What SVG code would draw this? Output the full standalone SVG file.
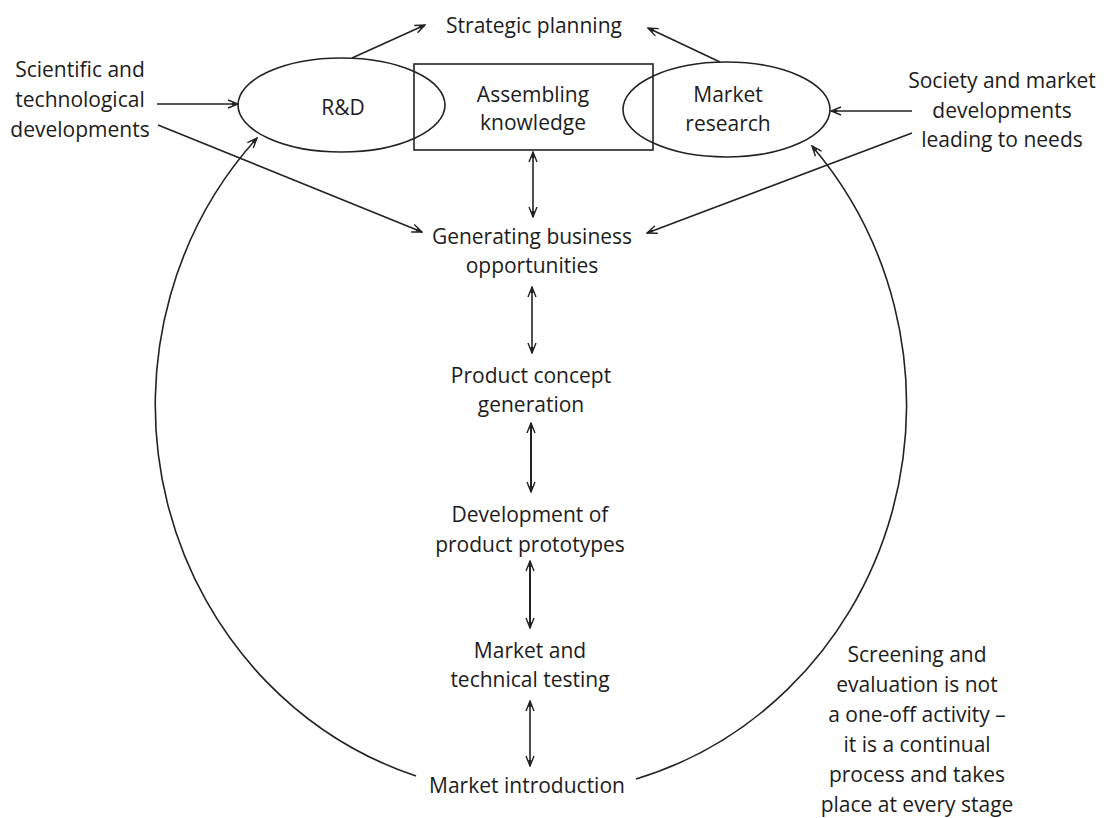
<svg xmlns="http://www.w3.org/2000/svg" width="1106" height="818" viewBox="0 0 1106 818">
  <defs>
    <style>
      .lbl { font-family: "Open Sans", "Noto Sans", "Liberation Sans", sans-serif; font-size: 21px; fill: #1c1c1c; text-anchor: middle; }
      .shape { fill: none; stroke: #222; stroke-width: 1.6; }
      .edge { fill: none; stroke: #222; stroke-width: 1.6; }
      .edge.bold { stroke-width: 2; }
    </style>
    <marker id="arrow" viewBox="0 0 12 10" markerWidth="12" markerHeight="10" refX="11" refY="5" orient="auto-start-reverse" markerUnits="userSpaceOnUse">
      <path d="M1,1 L11,5 L1,9" fill="none" stroke="#222" stroke-width="1.4"/>
      <path d="M5,3.2 L11,5 L5,6.8 Z" fill="#222"/>
    </marker>
  </defs>
  <rect width="1106" height="818" fill="#ffffff"/>

  <!-- connectors -->
  <g id="connectors">
    <!-- to strategic planning -->
    <line class="edge" x1="352" y1="58" x2="425" y2="25" marker-end="url(#arrow)"/>
    <line class="edge" x1="720" y1="62" x2="648" y2="28" marker-end="url(#arrow)"/>
    <!-- external inputs -->
    <line class="edge" x1="157" y1="104" x2="238" y2="104" marker-end="url(#arrow)"/>
    <line class="edge" x1="158" y1="125" x2="422" y2="232" marker-end="url(#arrow)"/>
    <line class="edge" x1="912" y1="111" x2="831" y2="111" marker-end="url(#arrow)"/>
    <line class="edge" x1="912" y1="133" x2="647" y2="233" marker-end="url(#arrow)"/>
    <!-- central chain -->
    <line class="edge" x1="533" y1="152" x2="533" y2="217" marker-start="url(#arrow)" marker-end="url(#arrow)"/>
    <line class="edge" x1="532" y1="287" x2="532" y2="353" marker-start="url(#arrow)" marker-end="url(#arrow)"/>
    <line class="edge bold" x1="531" y1="423" x2="531" y2="492" marker-start="url(#arrow)" marker-end="url(#arrow)"/>
    <line class="edge bold" x1="530" y1="561" x2="530" y2="628" marker-start="url(#arrow)" marker-end="url(#arrow)"/>
    <line class="edge" x1="530" y1="701" x2="530" y2="766" marker-start="url(#arrow)" marker-end="url(#arrow)"/>
    <!-- feedback loops -->
    <path class="edge" d="M416,776 A376,390 0 0,1 257,138" marker-end="url(#arrow)"/>
    <path class="edge" d="M636,779 A376,390 0 0,0 812,146" marker-end="url(#arrow)"/>
  </g>

  <g id="strategic-planning">
    <text class="lbl" x="534" y="33">Strategic planning</text>
  </g>
  <g id="sci-tech">
    <text class="lbl" x="80" y="77">Scientific and</text>
    <text class="lbl" x="80" y="107">technological</text>
    <text class="lbl" x="80" y="137">developments</text>
  </g>
  <g id="society-market">
    <text class="lbl" x="1002" y="88">Society and market</text>
    <text class="lbl" x="1002" y="118">developments</text>
    <text class="lbl" x="1002" y="147">leading to needs</text>
  </g>
  <g id="assembling-knowledge">
    <rect class="shape" x="414" y="64" width="239" height="86"/>
    <text class="lbl" x="533" y="102">Assembling</text>
    <text class="lbl" x="533" y="130">knowledge</text>
  </g>
  <g id="rnd">
    <ellipse class="shape" cx="341.5" cy="105" rx="103.5" ry="47"/>
    <text class="lbl" x="343" y="115">R&amp;D</text>
  </g>
  <g id="market-research">
    <ellipse class="shape" cx="726.5" cy="109.5" rx="103.5" ry="47.5"/>
    <text class="lbl" x="728" y="102">Market</text>
    <text class="lbl" x="728" y="131">research</text>
  </g>
  <g id="generating">
    <text class="lbl" x="532" y="244">Generating business</text>
    <text class="lbl" x="532" y="273">opportunities</text>
  </g>
  <g id="concept">
    <text class="lbl" x="531" y="383">Product concept</text>
    <text class="lbl" x="531" y="412">generation</text>
  </g>
  <g id="prototypes">
    <text class="lbl" x="530" y="522">Development of</text>
    <text class="lbl" x="530" y="552">product prototypes</text>
  </g>
  <g id="testing">
    <text class="lbl" x="530" y="658">Market and</text>
    <text class="lbl" x="530" y="687">technical testing</text>
  </g>
  <g id="introduction">
    <text class="lbl" x="527" y="793">Market introduction</text>
  </g>
  <g id="screening-note">
    <text class="lbl" x="917" y="662">Screening and</text>
    <text class="lbl" x="917" y="692">evaluation is not</text>
    <text class="lbl" x="917" y="722">a one-off activity –</text>
    <text class="lbl" x="917" y="752">it is a continual</text>
    <text class="lbl" x="917" y="782">process and takes</text>
    <text class="lbl" x="917" y="812">place at every stage</text>
  </g>
</svg>
